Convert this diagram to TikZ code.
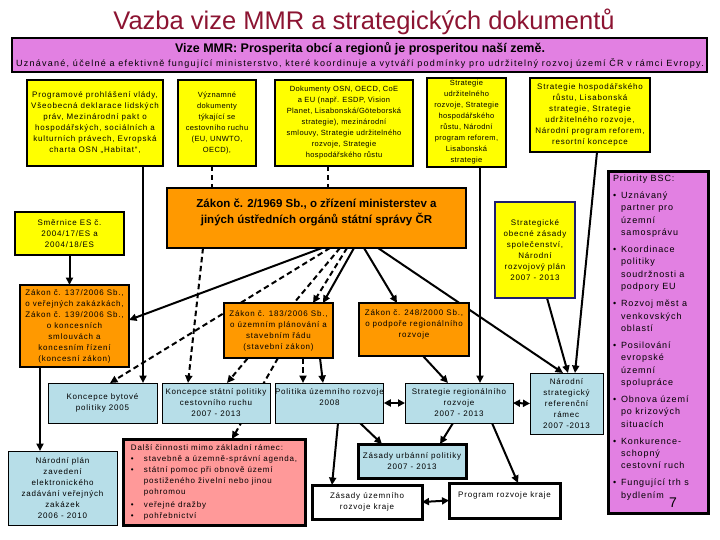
\documentclass[tikz,border=0pt]{standalone}
\usepackage{fontspec}
\setmainfont{Liberation Sans}
\newfontfamily\sm[LetterSpace=10]{Liberation Sans}
\newfontfamily\smn[LetterSpace=5]{Liberation Sans}
\newfontfamily\smw[LetterSpace=14]{Liberation Sans}
\usetikzlibrary{arrows.meta,calc}
\definecolor{ttl}{RGB}{140,20,50}
\definecolor{mag}{RGB}{226,128,226}
\definecolor{yel}{RGB}{255,255,0}
\definecolor{org}{RGB}{255,153,0}
\definecolor{lbl}{RGB}{183,222,232}
\definecolor{pnk}{RGB}{255,153,153}
\definecolor{nav}{RGB}{30,30,110}
\pgfdeclarelayer{bg}\pgfsetlayers{bg,main}
\newcommand\mkbox[7]{\node[#1,anchor=north west,minimum width={(#5-#3)*1pt},minimum height={(#6-#4)*1pt}] (#2) at (#3,#4) {#7};}
\newcommand\bul{\makebox[8pt][l]{•}}
\newcommand\ind{\hspace*{8pt}}
\newcommand\rbul{\makebox[13pt][l]{•}}
\newcommand\rind{\hspace*{13pt}}
\tikzset{
 every node/.style={inner sep=0pt,outer sep=0pt},
 bx/.style={draw=black,align=center,font=\sm\fontsize{8}{11}\selectfont,text=black},
 nfont/.style={font=\smn\fontsize{7.5}{11}\selectfont},
 ybx/.style={bx,fill=yel,line width=1.5pt},
 obx/.style={bx,fill=org,line width=2.5pt},
 lbx/.style={bx,fill=lbl,line width=1pt},
 wbx/.style={bx,fill=white,line width=3pt},
 arr/.style={line width=2pt,-{Triangle[length=7.5pt,width=7pt]}},
 dar/.style={arr,dash pattern=on 5.5pt off 3.5pt},
 dln/.style={line width=2pt,dash pattern=on 5.5pt off 3.5pt},
 bar/.style={line width=2pt,{Triangle[length=7pt,width=7pt]}-{Triangle[length=7pt,width=7pt]}},
}
\begin{document}
\begin{tikzpicture}[x=1pt,y=-1pt]
\useasboundingbox (0,0) rectangle (720,540);
\node[font=\fontsize{25.5}{28}\selectfont,text=ttl] (title) at (364,22) {Vazba vize MMR a strategických dokumentů};
\mkbox{draw=black,line width=1.5pt,fill=mag}{vis}{12}{38}{707}{72}{}
\node[font=\bfseries\fontsize{12.5}{14}\selectfont] (vis1) at (360,49) {Vize MMR: Prosperita obcí a regionů je prosperitou naší země.};
\node[font=\smw\fontsize{9}{10}\selectfont] (vis2) at (360,64) {Uznávané, účelné a efektivně fungující ministerstvo, které koordinuje a vytváří podmínky pro udržitelný rozvoj území ČR v rámci Evropy.};
% top row
\mkbox{ybx}{b1}{27}{80}{163}{166}{Programové prohlášení vlády,\\Všeobecná deklarace lidských\\práv, Mezinárodní pakt o\\hospodářských, sociálních a\\kulturních právech, Evropská\\charta OSN „Habitat“,}
\mkbox{ybx,nfont}{b2}{178}{80}{256}{166}{Významné\\dokumenty\\týkající se\\cestovního ruchu\\(EU, UNWTO,\\OECD),}
\mkbox{ybx,nfont}{b3}{275}{80}{413}{166}{Dokumenty OSN, OECD, CoE\\a EU (např. ESDP, Vision\\Planet, Lisabonská/Göteborská\\strategie), mezinárodní\\smlouvy, Strategie udržitelného\\rozvoje, Strategie\\hospodářského růstu}
\mkbox{ybx,nfont}{b4}{427}{78}{506}{167}{Strategie\\udržitelného\\rozvoje, Strategie\\hospodářského\\růstu, Národní\\program reforem,\\Lisabonská\\strategie}
\mkbox{ybx}{b5}{530}{78}{650}{152}{Strategie hospodářského\\růstu, Lisabonská\\strategie, Strategie\\udržitelného rozvoje,\\Národní program reforem,\\resortní koncepce}
% middle
\mkbox{obx,font=\bfseries\fontsize{11.5}{16}\selectfont}{zak2}{167}{188}{466}{248}{Zákon č. 2/1969 Sb., o zřízení ministerstev a\\jiných ústředních orgánů státní správy ČR\\[-2pt]\mbox{}}
\mkbox{ybx}{sme}{15}{212}{124}{255}{Směrnice ES č.\\2004/17/ES a\\2004/18/ES}
\mkbox{obx}{z137}{20}{285}{129}{367}{Zákon č. 137/2006 Sb.,\\o veřejných zakázkách,\\Zákon č. 139/2006 Sb.,\\o koncesních\\smlouvách a\\koncesním řízení\\(koncesní zákon)}
\mkbox{obx}{z183}{224}{303}{333}{358}{Zákon č. 183/2006 Sb.,\\o územním plánování a\\stavebním řádu\\(stavební zákon)}
\mkbox{obx}{z248}{359}{303}{469}{356}{Zákon č. 248/2000 Sb.,\\o podpoře regionálního\\rozvoje\\\mbox{}}
\mkbox{ybx,draw=nav,line width=2pt}{strat}{495}{202}{575}{298}{Strategické\\obecné zásady\\společenství,\\Národní\\rozvojový plán\\2007 - 2013}
\mkbox{bx,fill=mag,line width=3pt}{bsc}{608}{172}{708}{513}{}
\node[anchor=north west,align=left,font=\sm\fontsize{9}{12.4}\selectfont] (bsct) at (613,175) {Priority BSC:\\[4.5pt]
\bul Uznávaný\\\ind partner pro\\\ind územní\\\ind samosprávu\\[4.5pt]
\bul Koordinace\\\ind politiky\\\ind soudržnosti a\\\ind podpory EU\\[4.5pt]
\bul Rozvoj měst a\\\ind venkovských\\\ind oblastí\\[4.5pt]
\bul Posilování\\\ind evropské\\\ind územní\\\ind spolupráce\\[4.5pt]
\bul Obnova území\\\ind po krizových\\\ind situacích\\[4.5pt]
\bul Konkurence-\\\ind schopný\\\ind cestovní ruch\\[4.5pt]
\bul Fungující trh s\\\ind bydlením};
\node[font=\fontsize{14}{16}\selectfont] (pg) at (673,503) {7};
% lower
\mkbox{lbx}{kbp}{48}{383}{157}{423}{Koncepce bytové\\politiky 2005}
\mkbox{lbx}{kspcr}{162}{383}{270}{423}{Koncepce státní politiky\\cestovního ruchu\\2007 - 2013}
\mkbox{lbx}{pur}{275}{383}{382}{423}{Politika územního rozvoje\\2008\\\mbox{}}
\mkbox{lbx}{srr}{405}{383}{513}{423}{Strategie regionálního\\rozvoje\\2007 - 2013}
\mkbox{lbx}{nsrr}{530}{373}{603}{434}{Národní\\strategický\\referenční\\rámec\\2007 -2013}
\mkbox{lbx,line width=3pt}{zup}{358}{444}{466}{478}{Zásady urbánní politiky\\2007 - 2013}
\mkbox{lbx}{npz}{8}{451}{117}{525}{Národní plán\\zavedení\\elektronického\\zadávání veřejných\\zakázek\\2006 - 2010}
\mkbox{bx,fill=pnk,line width=3pt,align=left}{dal}{123}{439}{305}{525}{Další činnosti mimo základní rámec:\\
\rbul stavebně a územně-správní agenda,\\
\rbul státní pomoc při obnově území\\\rind postiženého živelní nebo jinou\\\rind pohromou\\[2pt]
\rbul veřejné dražby\\\rbul pohřebnictví}
\mkbox{wbx}{zurk}{312}{485}{422}{519}{Zásady územního\\rozvoje kraje}
\mkbox{wbx}{prk}{449}{483}{560}{518}{Program rozvoje kraje\\\mbox{}}
% connectors
\begin{pgfonlayer}{bg}
\fill[white] (0,0) rectangle (720,540);
\draw[arr] ($(b1.south west)+(116,0)$) -- ($(kbp.north west)+(95,0)$);
\draw[dln] ($(b2.south west)+(34,0)$) -- ($(zak2.north west)+(45,0)$);
\draw[dln] ($(b3.south west)+(53,0)$) -- ($(zak2.north west)+(161,0)$);
\draw[arr] ($(b4.south west)+(53,0)$) -- ($(srr.north west)+(75,0)$);
\draw[arr] ($(b5.south west)+(67,0)$) -- ($(nsrr.north west)+(45,0)$);
\draw[arr] (sme.south) -- (sme.south |- z137.north);
\draw[arr] ($(z137.south west)+(20,0)$) -- ($(npz.north west)+(32,0)$);
\draw[arr] ($(zak2.south west)+(155,0)$) -- ($(z137.east)+(0,-6)$);
\draw[dar] ($(zak2.south west)+(163,0)$) -- ($(kbp.north west)+(62,0)$);
\draw[dar] ($(zak2.south west)+(173,0)$) -- ($(kspcr.north west)+(65,0)$);
\draw[dar] ($(zak2.south west)+(180,0)$) -- ($(z183.north west)+(89,0)$);
\draw[arr] ($(zak2.south west)+(187,0)$) -- ($(z183.north west)+(99,0)$);
\draw[arr] ($(zak2.south west)+(197,0)$) -- ($(z248.north west)+(38,0)$);
\draw[arr] ($(zak2.south west)+(211,0)$) -- ($(nsrr.north west)+(33,0)$);
\draw[dar] ($(zak2.south west)+(36,0)$) -- ($(kspcr.north west)+(26,0)$);
\draw[dar] ($(z183.south west)+(54,0)$) -- ($(dal.north west)+(109,0)$);
\draw[dar] ($(z183.south west)+(79,0)$) -- ($(pur.north west)+(28,0)$);
\draw[arr] ($(z183.south west)+(96,0)$) -- ($(pur.north west)+(48,0)$);
\draw[arr] ($(z248.south west)+(64,0)$) -- ($(srr.north west)+(43,0)$);
\draw[arr] ($(strat.south west)+(52,0)$) -- ($(nsrr.north west)+(38,0)$);
\draw[bar] (pur.east) -- (srr.west);
\draw[bar] (srr.east) -- (nsrr.west);
\draw[arr] ($(pur.south west)+(63,0)$) -- ($(zurk.north west)+(20,0)$);
\draw[arr] ($(pur.south west)+(85,0)$) -- ($(zup.north west)+(24,0)$);
\draw[arr] ($(srr.south west)+(48,0)$) -- ($(zup.north west)+(82,0)$);
\draw[arr] ($(srr.south west)+(87,0)$) -- ($(prk.north west)+(69,0)$);
\draw[bar] (zurk.east) -- (prk.west);
\end{pgfonlayer}
\end{tikzpicture}
\end{document}
